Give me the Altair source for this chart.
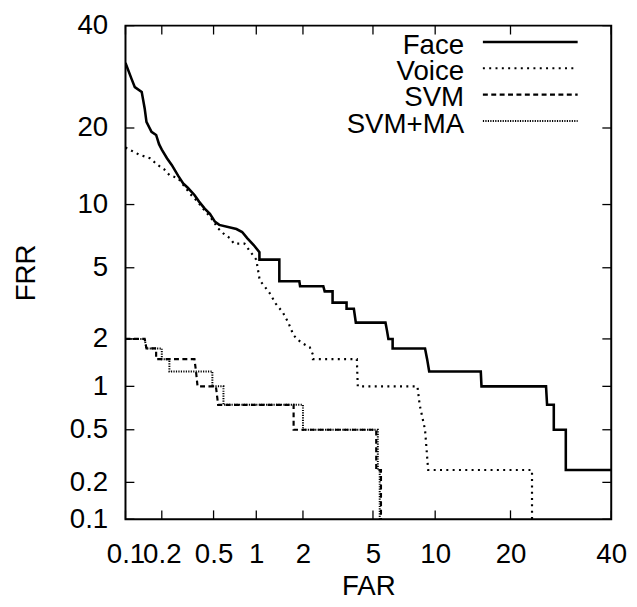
import altair as alt
import pandas as pd
from statistics import NormalDist

# ---------------- data (FAR %, FRR %) ----------------
series_names = ["Face", "Voice", "SVM", "SVM+MA"]

face_far = [0.1, 0.113, 0.12, 0.137, 0.145, 0.15, 0.165, 0.18, 0.19, 0.2, 0.22, 0.24, 0.27, 0.295,
            0.32, 0.36, 0.39, 0.43, 0.47, 0.51, 0.55, 0.73, 0.8, 0.87, 0.96, 1.05, 1.05, 1.35, 1.42,
            1.42, 1.9, 1.92, 2.65, 2.7, 3.0, 3.0, 3.6, 3.6, 3.95, 4.05, 5.8, 5.9, 6.0, 6.3, 6.3,
            9.0, 9.2, 9.4, 15.5, 15.6, 26.3, 26.5, 27.8, 27.8, 30.2, 30.2, 40]
face_frr = [32, 28.7, 27.2, 26.3, 23.3, 21, 19.4, 18.9, 17.5, 16.7, 15.5, 14.6, 13.2, 12.3,
            11.8, 11.0, 10.3, 9.6, 9.1, 8.4, 8.1, 7.75, 7.5, 7.0, 6.5, 6.0, 5.5, 5.5, 5.5,
            4.25, 4.25, 4.0, 4.0, 3.75, 3.75, 3.25, 3.25, 3.0, 3.0, 2.5, 2.5, 2.25, 2.0, 2.0, 1.75,
            1.75, 1.5, 1.25, 1.25, 1.0, 1.0, 0.75, 0.75, 0.5, 0.5, 0.25, 0.25]

voice_far = [0.1, 0.13, 0.16, 0.185, 0.21, 0.23, 0.27, 0.3, 0.34, 0.38, 0.43, 0.48, 0.54, 0.6,
             0.66, 0.7, 0.83, 0.9, 1.0, 1.05, 1.08, 1.22, 1.35, 1.5, 1.62, 1.75, 1.95, 2.2, 2.3,
             2.3, 4.1, 4.15, 8.3, 8.5, 9.0, 9.3, 23.7, 23.7]
voice_frr = [17, 16, 15.5, 14.6, 14, 13.3, 12.9, 12, 11, 10.3, 9.4, 8.7, 7.8, 7.3,
             7.0, 6.6, 6.6, 6.1, 5.5, 4.4, 4.2, 3.7, 3.2, 2.85, 2.5, 2.1, 1.9, 1.78, 1.6,
             1.5, 1.5, 1.0, 1.0, 0.75, 0.5, 0.25, 0.25, 0.1]

svm_far = [0.1, 0.145, 0.15, 0.18, 0.18, 0.36, 0.37, 0.38, 0.52, 0.54, 1.75, 1.75, 5.2, 5.2,
           5.5, 5.5]
svm_frr = [2.0, 2.0, 1.75, 1.75, 1.5, 1.5, 1.25, 1.0, 1.0, 0.75, 0.75, 0.5, 0.5, 0.25,
           0.25, 0.1]

svmma_far = [0.1, 0.145, 0.15, 0.2, 0.2, 0.23, 0.23, 0.49, 0.49, 0.59, 0.59, 2.0, 2.0, 5.3,
             5.3, 5.42, 5.42]
svmma_frr = [2.0, 2.0, 1.75, 1.75, 1.5, 1.5, 1.25, 1.25, 1.0, 1.0, 0.75, 0.75, 0.5, 0.5,
             0.25, 0.25, 0.1]

tick_values = [0.1, 0.2, 0.5, 1, 2, 5, 10, 20, 40]

# ---------------- build tables ----------------
rows = []
for name, fars, frrs in zip(series_names,
                            [face_far, voice_far, svm_far, svmma_far],
                            [face_frr, voice_frr, svm_frr, svmma_frr]):
    for i, (a, b) in enumerate(zip(fars, frrs)):
        rows.append({"series": name, "i": i, "far": a, "frr": b})
df = pd.DataFrame(rows)
ticks_df = pd.DataFrame({"v": [float(v) for v in tick_values]})

nd = NormalDist()
def probit(p):
    return nd.inv_cdf(p / 100.0)

lo, hi = probit(tick_values[0]), probit(tick_values[-1])
ticks_q = [probit(v) for v in tick_values]

FONT = "Liberation Sans"
W, H = 492, 500
TL = 9  # inward tick length
label_expr = "format(cumulativeNormal(datum.value) * 100, '.2~g')"

xaxis = alt.Axis(values=ticks_q, labelExpr=label_expr, labelOverlap=False, labelFlush=False,
                 ticks=False, domain=False, grid=False,
                 labelFont=FONT, labelFontSize=28, labelColor="black", labelPadding=22,
                 title="FAR", titleFont=FONT, titleFontSize=28, titleFontWeight="normal",
                 titleColor="black", titleBaseline="alphabetic", titleY=76)
yaxis = alt.Axis(values=ticks_q, labelExpr=label_expr, labelOverlap=False, labelFlush=False,
                 ticks=False, domain=False, grid=False,
                 labelFont=FONT, labelFontSize=28, labelColor="black", labelPadding=18,
                 title="FRR", titleFont=FONT, titleFontSize=28, titleFontWeight="normal",
                 titleColor="black", titleBaseline="alphabetic", titleAngle=270,
                 titleX=-92, titleY=H / 2)

xs = alt.Scale(domain=[lo, hi], nice=False, zero=False)
ys = alt.Scale(domain=[lo, hi], nice=False, zero=False)

X = alt.X("qx:Q", scale=xs, axis=xaxis)
Y = alt.Y("qy:Q", scale=ys, axis=yaxis)

base = alt.Chart(df).transform_calculate(
    qx="quantileNormal(datum.far / 100)",
    qy="quantileNormal(datum.frr / 100)",
)

tick_base = alt.Chart(ticks_df).transform_calculate(
    qx="quantileNormal(datum.v / 100)",
    qy="quantileNormal(datum.v / 100)",
)

styles = {
    "Face": dict(strokeWidth=2.6),
    "Voice": dict(strokeWidth=2.2, strokeDash=[2, 4.4]),
    "SVM": dict(strokeWidth=2.2, strokeDash=[5, 3.5]),
    "SVM+MA": dict(strokeWidth=2.0, strokeDash=[1.2, 1.3]),
}

layers = []
for name in series_names:
    layers.append(
        base.transform_filter(alt.datum.series == name)
        .mark_line(color="black", clip=True, strokeCap="butt", **styles[name])
        .encode(x=X, y=Y, order=alt.Order("i:Q"))
    )

# inward ticks on all four sides (gnuplot style, mirrored)
TC = "black"
vt = dict(color=TC, orient="vertical", size=TL, thickness=1.3, opacity=1)
ht = dict(color=TC, orient="horizontal", size=TL, thickness=1.3, opacity=1)
layers.append(tick_base.mark_tick(**vt).encode(x=X, y=alt.value(H - TL / 2)))
layers.append(tick_base.mark_tick(**vt).encode(x=X, y=alt.value(TL / 2)))
layers.append(tick_base.mark_tick(**ht).encode(y=Y, x=alt.value(TL / 2)))
layers.append(tick_base.mark_tick(**ht).encode(y=Y, x=alt.value(W - TL / 2)))

# gnuplot-style key: text right-aligned, sample line to the right
row_y = [16.5, 43.2, 69.9, 96.6]
for name, yy in zip(series_names, row_y):
    one = pd.DataFrame({"label": [name]})
    layers.append(
        alt.Chart(one).mark_text(align="right", baseline="alphabetic", font=FONT,
                                 fontSize=28, color="black")
        .encode(text="label:N", x=alt.value(343), y=alt.value(yy + 12))
    )
    layers.append(
        alt.Chart(one).mark_rule(color="black", strokeCap="butt", **styles[name])
        .encode(x=alt.value(362), x2=alt.value(458), y=alt.value(yy))
    )

chart = alt.layer(*layers).properties(
    width=W, height=H,
    padding={"left": 119, "top": 14, "right": 18, "bottom": 85},
    autosize=alt.AutoSizeParams(type="none"),
    background="white",
).configure_view(stroke="black", strokeWidth=2)

chart.save("out.html", embed_options={"renderer": "svg", "actions": False})
